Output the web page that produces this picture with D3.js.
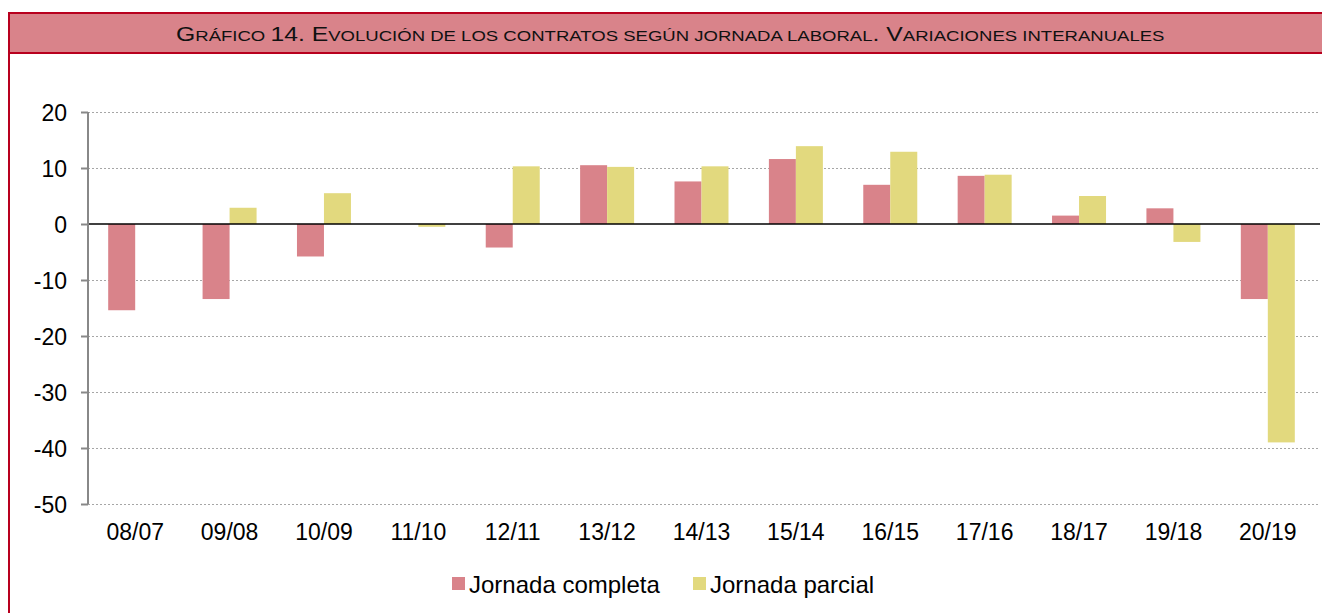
<!DOCTYPE html>
<html><head><meta charset="utf-8">
<script src="https://cdn.jsdelivr.net/npm/d3@7"></script>
<style>body{margin:0;background:#fff}svg{display:block}text{font-family:"Liberation Sans",Arial,sans-serif}</style>
</head><body><svg id="c" width="1322" height="613"></svg>
<script>
const categories = ["08/07","09/08","10/09","11/10","12/11","13/12","14/13","15/14","16/15","17/16","18/17","19/18","20/19"];
const seriesNames = ["Jornada completa","Jornada parcial"];
const completa = [-15.4,-13.4,-5.8,0,-4.2,10.5,7.6,11.6,7.0,8.6,1.5,2.8,-13.4];
const parcial  = [0,2.9,5.5,-0.5,10.3,10.2,10.3,13.9,12.9,8.8,5.0,-3.2,-39.0];
const yTicks = [20,10,0,-10,-20,-30,-40,-50];
const titleParts = [["G",1],["RÁFICO ",0],["14. E",1],["VOLUCIÓN DE LOS CONTRATOS SEGÚN JORNADA LABORAL",0],[". V",1],["ARIACIONES INTERANUALES",0]];
const colors = ["#d9838a","#e2d97e"];

const svg = d3.select("#c");
const border = "#b8001e";
// header
svg.append("rect").attr("x",9).attr("y",13).attr("width",1322).attr("height",40).attr("fill","#d9838a");
svg.append("line").attr("x1",8).attr("x2",1322).attr("y1",13).attr("y2",13).attr("stroke",border).attr("stroke-width",2);
svg.append("line").attr("x1",8).attr("x2",1322).attr("y1",53).attr("y2",53).attr("stroke",border).attr("stroke-width",2);
svg.append("line").attr("x1",9).attr("x2",9).attr("y1",12).attr("y2",613).attr("stroke",border).attr("stroke-width",2);
const tg = svg.append("g");
const t = tg.append("text").attr("x",0).attr("y",0).attr("fill","#111");
titleParts.forEach(([s,big])=>t.append("tspan").style("font-size",(big?20:15)+"px").text(s));
const w = t.node().getComputedTextLength();
tg.attr("transform",`translate(176,41) scale(${989/w},1)`);

const x = d3.scaleBand().domain(categories).range([88,1315]);
const y = d3.scaleLinear().domain([-50,20]).range([504,112]);
const inner = d3.scaleBand().domain([0,1]).range([0,x.bandwidth()]).paddingOuter(0.748);

// grid
svg.append("g").selectAll("line").data(yTicks.filter(d=>d!==0)).join("line")
  .attr("x1",88).attr("x2",1320).attr("y1",d=>Math.round(y(d))+0.5).attr("y2",d=>Math.round(y(d))+0.5)
  .attr("stroke","#a6a6a6").attr("stroke-dasharray","2,2").attr("stroke-width",1);

const data = [completa,parcial];
data.forEach((arr,si)=>{
  svg.append("g").selectAll("rect").data(arr).join("rect")
    .attr("x",(d,i)=>x(categories[i])+inner(si))
    .attr("width",inner.bandwidth())
    .attr("y",d=>y(Math.max(0,d)))
    .attr("height",d=>Math.abs(y(d)-y(0)))
    .attr("fill",colors[si]);
});
// zero line
svg.append("line").attr("x1",88).attr("x2",1320).attr("y1",y(0)).attr("y2",y(0)).attr("stroke","#000").attr("stroke-width",1.3);

// y axis
const ya = svg.append("g").attr("transform","translate(88,0)").call(d3.axisLeft(y).tickValues(yTicks).tickSize(7).tickPadding(14).tickFormat(d=>String(d)));
ya.select(".domain").attr("stroke","#888").attr("stroke-width",2).attr("d","M0,"+y(20)+"V"+y(-50));
ya.selectAll(".tick line").attr("stroke","#888").attr("stroke-width",2);
ya.selectAll("text").attr("font-size",23).attr("fill","#000").attr("font-family","Liberation Sans, Arial, sans-serif").attr("dy","0.35em");

// x axis labels
const xa = svg.append("g").attr("transform","translate(0,504)").call(d3.axisBottom(x).tickSize(0).tickPadding(20));
xa.select(".domain").remove();
xa.selectAll("text").attr("font-size",23).attr("fill","#000").attr("font-family","Liberation Sans, Arial, sans-serif");

// legend
const leg = [[452,469],[693,710]];
seriesNames.forEach((n,i)=>{
  svg.append("rect").attr("x",leg[i][0]).attr("y",577).attr("width",13).attr("height",13).attr("fill",colors[i]);
  svg.append("text").attr("x",leg[i][1]).attr("y",593).attr("font-size",24).attr("fill","#000").text(n);
});
</script></body></html>
